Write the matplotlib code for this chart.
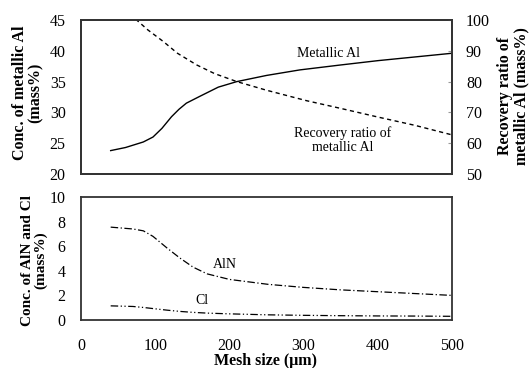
import numpy as np
import matplotlib
matplotlib.use("Agg")
import matplotlib.pyplot as plt

plt.rcParams['font.family'] = ['Liberation Serif', 'DejaVu Serif']

# Metallic Al concentration (left axis, top panel)
mesh_al = [40, 60, 84, 97, 109, 122, 132, 142, 160, 185, 210, 250, 295, 350, 400, 450, 500]
conc_al = [23.8, 24.3, 25.2, 26.0, 27.4, 29.3, 30.5, 31.5, 32.6, 34.1, 35.0, 36.0, 36.9, 37.7, 38.4, 39.0, 39.6]

# Recovery ratio of metallic Al (right axis, top panel)
mesh_rec = [40, 60, 75, 90, 111, 130, 156, 180, 210, 250, 304, 350, 400, 450, 500]
recovery = [106, 103, 100, 96.8, 93, 89.2, 85.4, 82.6, 80.0, 77.2, 73.8, 71.3, 68.5, 65.8, 62.7]

# AlN and Cl concentrations (bottom panel)
mesh_low = [40, 70, 84, 97, 107, 116, 133, 151, 170, 200, 252, 300, 350, 400, 450, 500]
conc_aln = [7.55, 7.4, 7.25, 6.8, 6.3, 5.85, 5.05, 4.3, 3.75, 3.3, 2.9, 2.65, 2.45, 2.3, 2.15, 2.0]
conc_cl = [1.15, 1.1, 1.02, 0.93, 0.86, 0.8, 0.7, 0.62, 0.56, 0.5, 0.42, 0.38, 0.35, 0.33, 0.32, 0.3]

xticks = [0, 100, 200, 300, 400, 500]

fig = plt.figure(figsize=(5.31, 3.68), dpi=100)
ax1 = fig.add_axes([81/531, 194/368, 371/531, 154/368])
ax2 = ax1.twinx()
ax3 = fig.add_axes([81/531, 48/368, 371/531, 123/368])

spine_col = '#333333'
for ax in (ax1, ax2, ax3):
    for s in ax.spines.values():
        s.set_color(spine_col)
        s.set_linewidth(1.3)

ax1.plot(mesh_al, conc_al, color='k', lw=1.0)
ax2.plot(mesh_rec, recovery, color='k', lw=1.0, ls=(0, (3, 2.5)))
ax3.plot(mesh_low, conc_aln, color='k', lw=0.9, ls=(0, (6, 2, 1, 2)))
ax3.plot(mesh_low, conc_cl, color='k', lw=0.9, ls=(0, (6, 2, 1, 2, 1, 2)))

ax1.set_xlim(0, 500)
ax1.set_ylim(20, 45)
ax1.set_yticks([20, 25, 30, 35, 40, 45])
ax1.set_xticks([])
ax2.set_ylim(50, 100)
ax2.set_yticks([50, 60, 70, 80, 90, 100])
ax3.set_xlim(0, 500)
ax3.set_ylim(0, 10)
ax3.set_yticks([0, 2, 4, 6, 8, 10])
ax3.set_xticks(xticks)

ax1.tick_params(axis='y', length=0, pad=11, labelsize=11.5)
ax2.tick_params(axis='y', direction='in', length=3, color='#999999', pad=10, labelsize=11.5)
ax3.tick_params(axis='both', length=0, labelsize=11.5)
ax3.tick_params(axis='y', pad=11)
ax3.tick_params(axis='x', pad=13)

ax1.text(333, 39.6, 'Metallic Al', ha='center', va='center', fontsize=10)
ax2.text(353, 61.0, 'Recovery ratio of\nmetallic Al', ha='center', va='center',
         fontsize=10, linespacing=1.1)
ax3.text(194, 4.5, 'AlN', ha='center', va='center', fontsize=10)
ax3.text(163, 1.6, 'Cl', ha='center', va='center', fontsize=10)

fig.text(28/531, 1 - 93/368, 'Conc. of metallic Al\n(mass%)', rotation=90,
         ha='center', va='center', fontsize=11.5, fontweight='bold', linespacing=1.0)
fig.text(34/531, 1 - 260/368, 'Conc. of AlN and Cl\n(mass%)', rotation=90,
         ha='center', va='center', fontsize=11, fontweight='bold', linespacing=1.0)
fig.text(513/531, 1 - 96/368, 'Recovery ratio of\nmetallic Al (mass%)', rotation=90,
         ha='center', va='center', fontsize=11.5, fontweight='bold', linespacing=1.0)
fig.text(266/531, 1 - 361/368, 'Mesh size (μm)', ha='center', va='center',
         fontsize=11.5, fontweight='bold')

fig.savefig('out.png', dpi=100)
